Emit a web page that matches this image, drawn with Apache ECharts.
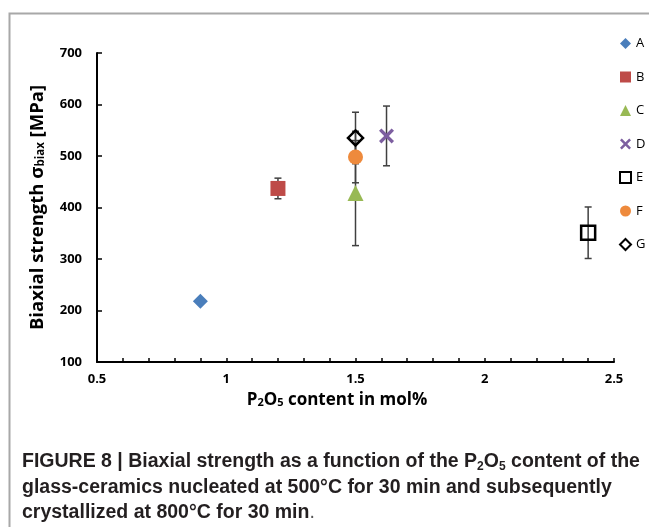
<!DOCTYPE html>
<html>
<head>
<meta charset="utf-8">
<script src="https://cdn.jsdelivr.net/npm/echarts@6/dist/echarts.min.js"></script>
<style>html,body{margin:0;padding:0;background:#fff;}#chart{width:649px;height:527px;}</style>
</head>
<body>
<div id="chart"></div>
<script>
// ---- data ----
const categories = ['A', 'B', 'C', 'D', 'E', 'F', 'G'];
const xValues = [0.9, 1.2, 1.5, 1.62, 2.4, 1.5, 1.5];
const yValues = [218, 437, 428, 539, 351, 498, 535];
const yErrors = [0, 20, 102, 58, 50, 50, 50];
const yTickValues = [100, 200, 300, 400, 500, 600, 700];
const xTickLabels = ['0.5', '1', '1.5', '2', '2.5'];

// ---- styles ----
const chartFont = 'Open Sans';
const capFont = 'Liberation Sans';
const symbols = {
  A: 'diamond',
  B: 'rect',
  C: 'triangle',
  D: 'path://M0,1.6 L1.6,0 L5,3.4 L8.4,0 L10,1.6 L6.6,5 L10,8.4 L8.4,10 L5,6.6 L1.6,10 L0,8.4 L3.4,5 Z',
  E: 'rect',
  F: 'circle',
  G: 'diamond'
};
const sizes = { A: 15, B: 15, C: 16, D: 15, E: 14, F: 15, G: 15 };
const itemStyles = {
  A: { color: '#4A7EBB', opacity: 1 },
  B: { color: '#BE4B48', opacity: 1 },
  C: { color: '#98B954', opacity: 1 },
  D: { color: '#7D5FA0', opacity: 1 },
  E: { color: 'rgba(0,0,0,0)', borderColor: '#000', borderWidth: 2.5, opacity: 1 },
  F: { color: '#EE8A3C', opacity: 1 },
  G: { color: 'rgba(0,0,0,0)', borderColor: '#000', borderWidth: 2.5, opacity: 1 }
};

const errData = categories.map((c, i) => [xValues[i], yValues[i], yErrors[i]]).filter(d => d[2] > 0);

const scatterSeries = categories.map((c, i) => ({
  name: c,
  type: 'scatter',
  z: 5,
  symbol: symbols[c],
  symbolSize: sizes[c],
  itemStyle: itemStyles[c],
  data: [[xValues[i], yValues[i]]]
}));

const chart = echarts.init(document.getElementById('chart'), null, { renderer: 'canvas' });

const subRich = { fontSize: 11.5, fontWeight: 'bold', fontFamily: chartFont, color: '#000', verticalAlign: 'bottom', lineHeight: 11 };

const option = {
  backgroundColor: '#fff',
  animation: false,
  grid: { left: 97, right: 35, top: 53, bottom: 165 },
  legend: {
    orient: 'vertical',
    left: 619,
    top: 37,
    itemWidth: 11,
    itemHeight: 11,
    itemGap: 20.5,
    padding: 0,
    data: categories,
    textStyle: { fontSize: 13, color: '#000', fontFamily: chartFont, lineHeight: 11 }
  },
  xAxis: {
    type: 'value',
    min: 0.5,
    max: 2.5,
    interval: 0.1,
    axisLine: { show: true, onZero: false, lineStyle: { color: '#000', width: 2 } },
    axisTick: { show: true, inside: true, length: 4, lineStyle: { color: '#000', width: 1.5 } },
    splitLine: { show: false },
    axisLabel: {
      margin: 11,
      fontSize: 13,
      fontWeight: 'bold',
      color: '#000',
      fontFamily: chartFont,
      formatter: function (v) {
        const k = Math.round(v * 2);
        if (Math.abs(v * 2 - k) < 1e-6) {
          const lbl = xTickLabels[k - 1];
          return lbl !== undefined ? lbl : '';
        }
        return '';
      }
    }
  },
  yAxis: {
    type: 'value',
    min: yTickValues[0],
    max: yTickValues[yTickValues.length - 1],
    interval: 100,
    axisLine: { show: true, lineStyle: { color: '#000', width: 2 } },
    axisTick: { show: true, inside: true, length: 5, lineStyle: { color: '#000', width: 1.5 } },
    splitLine: { show: false },
    axisLabel: { margin: 15, fontSize: 13, fontWeight: 'bold', color: '#000', fontFamily: chartFont },
    name: 'Biaxial strength σ{sub|biax} [MPa]',
    nameLocation: 'middle',
    nameRotate: 90,
    nameGap: 50,
    nameTextStyle: {
      fontSize: 18.5, fontWeight: 'bold', color: '#000', fontFamily: chartFont,
      rich: { sub: subRich }
    }
  },
  graphic: [
    {
      type: 'polyline',
      shape: { points: [[649, 13.5], [9.5, 13.5], [9.5, 527]] },
      style: { stroke: '#a8a8a8', lineWidth: 2, fill: null },
      silent: true
    },
    {
      type: 'text',
      x: 337, y: 400,
      style: {
        text: 'P{sub|2}O{sub|5} content in mol%',
        fontSize: 17, fontWeight: 'bold', fontFamily: chartFont, fill: '#000',
        align: 'center', verticalAlign: 'middle',
        rich: { sub: { fontSize: 11, fontWeight: 'bold', fontFamily: chartFont, fill: '#000', verticalAlign: 'bottom' } }
      }
    },
    {
      type: 'text', x: 22, y: 462,
      style: {
        text: 'FIGURE 8 | Biaxial strength as a function of the P{s|2}O{s|5} content of the',
        fontSize: 19.5, fontWeight: 'bold', fontFamily: capFont, fill: '#231f20',
        verticalAlign: 'middle', lineHeight: 22,
        rich: { s: { fontSize: 12, fontWeight: 'bold', fontFamily: capFont, fill: '#231f20', verticalAlign: 'bottom' } }
      }
    },
    {
      type: 'text', x: 22, y: 487.5,
      style: {
        text: 'glass-ceramics nucleated at 500°C for 30 min and subsequently',
        fontSize: 19.5, fontWeight: 'bold', fontFamily: capFont, fill: '#231f20', verticalAlign: 'middle'
      }
    },
    {
      type: 'text', x: 22, y: 513,
      style: {
        text: 'crystallized at 800°C for 30 min{n|.}',
        fontSize: 19.5, fontWeight: 'bold', fontFamily: capFont, fill: '#231f20', verticalAlign: 'middle',
        rich: { n: { fontSize: 19.5, fontWeight: 'normal', fontFamily: capFont, fill: '#555' } }
      }
    }
  ],
  series: [
    {
      name: 'err',
      type: 'custom',
      z: 2,
      renderItem: function (params, api) {
        const x = api.value(0), y = api.value(1), e = api.value(2);
        const hi = api.coord([x, y + e]);
        const lo = api.coord([x, y - e]);
        const w = 3.5;
        const st = { stroke: '#404040', lineWidth: 1.5 };
        return {
          type: 'group',
          children: [
            { type: 'line', shape: { x1: hi[0], y1: hi[1], x2: lo[0], y2: lo[1] }, style: st },
            { type: 'line', shape: { x1: hi[0] - w, y1: hi[1], x2: hi[0] + w, y2: hi[1] }, style: st },
            { type: 'line', shape: { x1: lo[0] - w, y1: lo[1], x2: lo[0] + w, y2: lo[1] }, style: st }
          ]
        };
      },
      encode: { x: 0, y: 1 },
      data: errData
    }
  ].concat(scatterSeries)
};
chart.setOption(option);
</script>
</body>
</html>
